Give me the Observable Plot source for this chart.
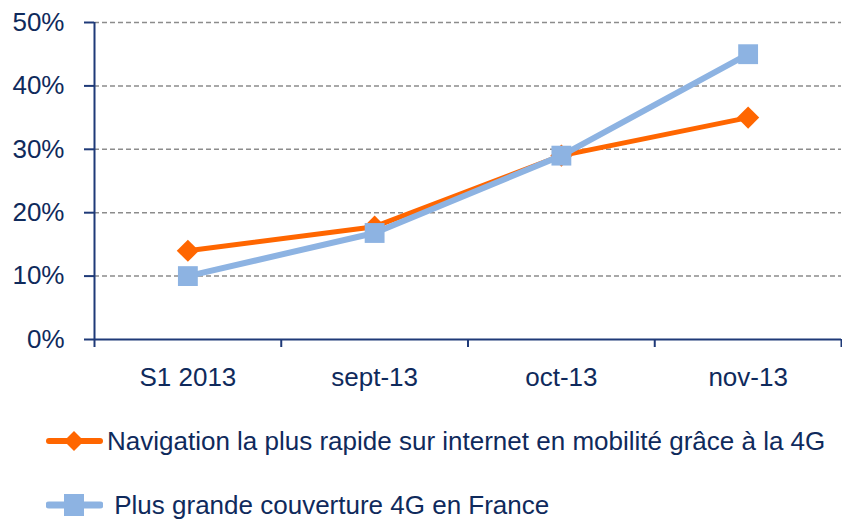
<!DOCTYPE html>
<html><head><meta charset="utf-8">
<script src="https://cdn.jsdelivr.net/npm/d3@7"></script>
<script src="https://cdn.jsdelivr.net/npm/@observablehq/plot@0.6"></script>
<style>
body{margin:0;background:#fff;font-family:"Liberation Sans Narrow","Arial Narrow","Liberation Sans",sans-serif;}
#legend{color:#0f2a5c;font-size:26px;margin-top:9px;}
.item{display:flex;align-items:center;height:64px;margin-left:46px;}
.item svg{margin-right:4px;}
</style></head><body>
<div id="chart"></div>
<div id="legend"></div>
<script>
const categories = ["S1 2013", "sept-13", "oct-13", "nov-13"];
const navigation = [0.14, 0.178, 0.29, 0.35];
const couverture = [0.10, 0.168, 0.29, 0.45];
const seriesNames = ["Navigation la plus rapide sur internet en mobilité grâce à la 4G", " Plus grande couverture 4G en France"];
const yTicks = [0, 0.1, 0.2, 0.3, 0.4, 0.5];
const gridTicks = [0.1, 0.2, 0.3, 0.4, 0.5];

const orange = "#ff6600", blue = "#8db3e2", navy = "#1f3a78", textCol = "#0f2a5c";
const rowsA = categories.map((c, i) => ({i: i + 0.5, v: navigation[i]}));
const rowsB = categories.map((c, i) => ({i: i + 0.5, v: couverture[i]}));
const bounds = d3.range(categories.length + 1);
const centers = categories.map((c, i) => i + 0.5);

const chart = Plot.plot({
  width: 842, height: 400,
  marginLeft: 94, marginRight: 1, marginTop: 22, marginBottom: 61,
  style: {fontFamily: '"Liberation Sans Narrow","Arial Narrow","Liberation Sans",sans-serif', fontSize: "26px", color: textCol, background: "#fff"},
  x: {type: "linear", domain: [0, categories.length], axis: null},
  y: {domain: [0, 0.5], axis: null},
  marks: [
    Plot.ruleY(gridTicks, {stroke: "#8c8c8c", strokeWidth: 1.5, strokeDasharray: "5,3"}),
    Plot.axisY({ticks: yTicks, tickFormat: d => Math.round(d * 100) + "%", tickSize: 10, tickPadding: 20, stroke: navy, strokeWidth: 2, strokeOpacity: 1, fill: textCol, fontSize: 26, label: null}),
    Plot.ruleX([0], {stroke: navy, strokeWidth: 2}),
    Plot.ruleY([0], {stroke: navy, strokeWidth: 2}),
    Plot.axisX({ticks: bounds, tickFormat: () => "", tickSize: 8, stroke: navy, strokeWidth: 2, strokeOpacity: 1, label: null}),
    Plot.axisX({ticks: centers, tickFormat: d => categories[Math.floor(d)], tickSize: 0, tickPadding: 28, fill: textCol, fontSize: 26, label: null}),
    Plot.line(rowsA, {x: "i", y: "v", stroke: orange, strokeWidth: 5}),
    Plot.dot(rowsA, {x: "i", y: "v", symbol: "diamond2", r: 10, fill: orange, stroke: "none"}),
    Plot.line(rowsB, {x: "i", y: "v", stroke: blue, strokeWidth: 6}),
    Plot.dot(rowsB, {x: "i", y: "v", symbol: "square", r: 11.2, fill: blue, stroke: "none"})
  ]
});
document.getElementById("chart").appendChild(chart);

const leg = document.getElementById("legend");
[[orange, "diamond", 5], [blue, "square", 6]].forEach(([col, sym, w], k) => {
  const div = document.createElement("div");
  div.className = "item";
  const mk = sym === "diamond"
    ? `<path d="M28,19 L38,29 L28,39 L18,29 Z" fill="${col}"/>`
    : `<rect x="18" y="18" width="20" height="22" fill="${col}"/>`;
  div.innerHTML = `<svg width="57" height="58" viewBox="0 0 57 58"><line x1="3" x2="54" y1="29" y2="29" stroke="${col}" stroke-width="${w + 1}" stroke-linecap="round"/>${mk}</svg><span style="white-space:pre">${seriesNames[k]}</span>`;
  leg.appendChild(div);
});
</script>
</body></html>
